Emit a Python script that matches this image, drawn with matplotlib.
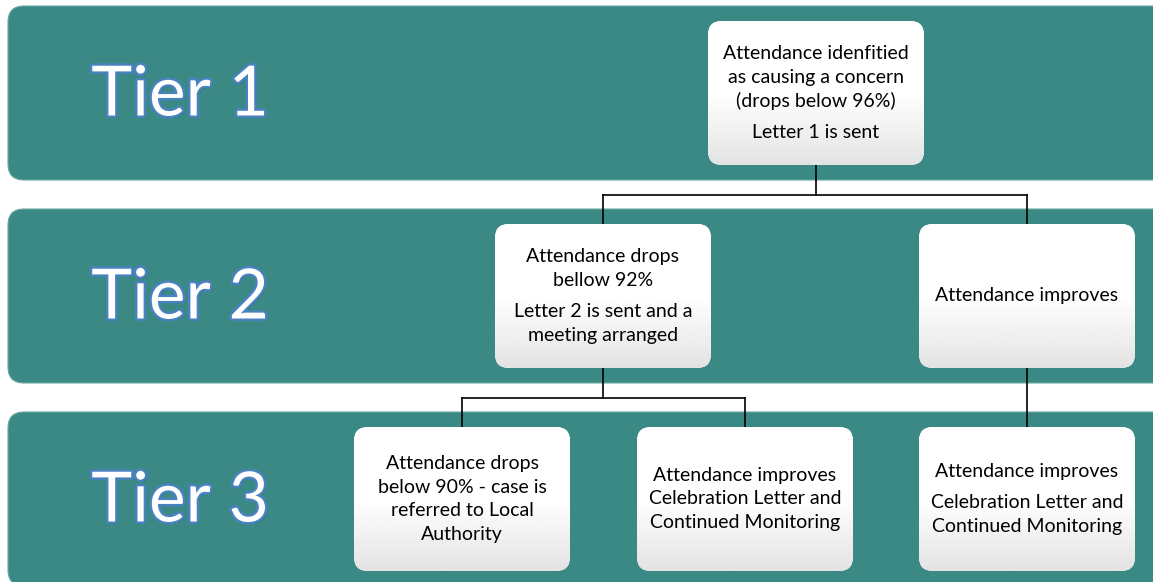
import numpy as np
import matplotlib.pyplot as plt
from matplotlib.patches import FancyBboxPatch
import matplotlib.patheffects as pe

# tier labels
tiers = ['Tier 1', 'Tier 2', 'Tier 3']

# box texts (each entry is a list of paragraphs; each paragraph a list of lines)
box_texts = [
    [['Attendance idenfitied', 'as causing a concern', '(drops below 96%)'], ['Letter 1 is sent']],
    [['Attendance drops', 'bellow 92%'], ['Letter 2 is sent and a', 'meeting arranged']],
    [['Attendance improves']],
    [['Attendance drops', 'below 90% - case is', 'referred to Local', 'Authority']],
    [['Attendance improves', 'Celebration Letter and', 'Continued Monitoring']],
    [['Attendance improves'], ['Celebration Letter and', 'Continued Monitoring']],
]
box_tier = [0, 1, 1, 2, 2, 2]
box_parent = [None, 0, 0, 1, 1, 2]

W, H = 1153, 582
band_color = '#3a8984'
band_top = [6, 209, 412]
band_h = 174
box_w, box_h = 216, 144
box_x = [708, 495, 919, 354, 637, 919]
line_h = 23.5
para_gap = 8

plt.rcParams['font.family'] = ['Lato', 'DejaVu Sans']
fig = plt.figure(figsize=(W / 100, H / 100), dpi=100)
ax = fig.add_axes([0, 0, 1, 1])
ax.set_xlim(0, W)
ax.set_ylim(H, 0)
ax.axis('off')

# tier bands
for i, t in enumerate(tiers):
    band = FancyBboxPatch((8, band_top[i]), W + 40, band_h,
                          boxstyle='round,pad=0,rounding_size=16',
                          fc=band_color, ec='#6aa9a4', lw=0.8, zorder=1)
    ax.add_patch(band)
    ax.text(180, band_top[i] + 90, t, fontsize=50, color='white',
            ha='center', va='center', zorder=5,
            path_effects=[pe.withSimplePatchShadow(offset=(1.5, -1.5), shadow_rgbFace='#1f4d4a', alpha=0.45),
                          pe.Stroke(linewidth=3.5, foreground='#4a82bf'), pe.Normal()])

# gradient for boxes
grad = np.concatenate([np.ones(50), np.linspace(1.0, 0.89, 50)])[:, None]
grad = np.repeat(grad, 2, axis=1)

centers = []
for k, paras in enumerate(box_texts):
    x0 = box_x[k]
    y0 = band_top[box_tier[k]] + 15
    centers.append((x0 + box_w / 2, y0, y0 + box_h))
    patch = FancyBboxPatch((x0, y0), box_w, box_h,
                           boxstyle='round,pad=0,rounding_size=14',
                           fc='white', ec='none', zorder=3)
    ax.add_patch(patch)
    im = ax.imshow(grad, cmap='gray', vmin=0, vmax=1, aspect='auto',
                   extent=(x0, x0 + box_w, y0 + box_h, y0), zorder=3.5,
                   interpolation='bilinear')
    im.set_clip_path(patch)

    n_lines = sum(len(p) for p in paras)
    total = n_lines * line_h + (len(paras) - 1) * para_gap
    y = y0 + box_h / 2 - total / 2 + line_h / 2
    for p in paras:
        for line in p:
            ax.text(x0 + box_w / 2, y, line, fontsize=14, color='black',
                    ha='center', va='center', zorder=6)
            y += line_h
        y += para_gap

ax.set_xlim(0, W)
ax.set_ylim(H, 0)

# connectors
for parent in range(len(box_texts)):
    kids = [k for k, p in enumerate(box_parent) if p == parent]
    if not kids:
        continue
    px, _, pb = centers[parent]
    kid_top = centers[kids[0]][1]
    if len(kids) == 1 and abs(centers[kids[0]][0] - px) < 1:
        ax.plot([px, px], [pb, kid_top], color='black', lw=1.2, zorder=2)
        continue
    ymid = (pb + kid_top) / 2
    xs = [centers[k][0] for k in kids]
    ax.plot([px, px], [pb, ymid], color='black', lw=1.2, zorder=2)
    ax.plot([min(xs), max(xs)], [ymid, ymid], color='black', lw=1.2, zorder=2)
    for xk in xs:
        ax.plot([xk, xk], [ymid, kid_top], color='black', lw=1.2, zorder=2)

fig.savefig('out.png', dpi=100, facecolor='white')
